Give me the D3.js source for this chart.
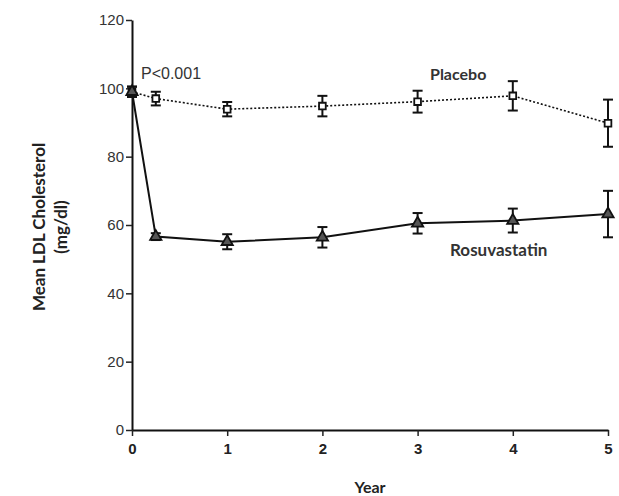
<!DOCTYPE html>
<html>
<head>
<meta charset="utf-8">
<script src="https://cdn.jsdelivr.net/npm/d3@7"></script>
<style>
  html, body { margin: 0; padding: 0; background: #fff; }
  svg { display: block; }
</style>
</head>
<body>
<svg id="chart" width="619" height="496"></svg>
<script>
// ---- data ----
const years = [0, 0.25, 1, 2, 3, 4, 5];
const placeboMean = [99, 97, 93.9, 94.8, 96.1, 97.8, 89.8];
const placeboErr  = [1.5, 2, 2.1, 3, 3.2, 4.3, 6.9];
const rosuMean    = [99, 56.6, 55.1, 56.4, 60.5, 61.3, 63.2];
const rosuErr     = [1.5, 1, 2.2, 3, 3, 3.5, 6.8];
const xTicks = [0, 1, 2, 3, 4, 5];
const yTicks = [0, 20, 40, 60, 80, 100, 120];

const svg = d3.select("#chart");
const x = d3.scaleLinear().domain([0, 5]).range([132, 608]);
const y = d3.scaleLinear().domain([0, 120]).range([430, 20]);

const tickFont = "'Liberation Sans', Arial, sans-serif";
const labelFont = "Lato, 'Open Sans', sans-serif";

// axes
const yAxis = svg.append("g").attr("transform", "translate(132,0)")
  .call(d3.axisLeft(y).tickValues(yTicks).tickFormat(d3.format("d")).tickSize(6).tickPadding(2).tickSizeOuter(0));
const xAxis = svg.append("g").attr("transform", "translate(0,430)")
  .call(d3.axisBottom(x).tickValues(xTicks).tickFormat(d3.format("d")).tickSize(6).tickPadding(7).tickSizeOuter(0));
[yAxis, xAxis].forEach(g => {
  g.select(".domain").attr("stroke", "#111").attr("stroke-width", 2);
  g.selectAll(".tick line").attr("stroke", "#222").attr("stroke-width", 1.5);
  g.selectAll(".tick text").attr("fill", "#333").style("font-family", tickFont).style("font-size", "15px");
});
xAxis.selectAll(".tick text").style("font-weight", "bold").attr("fill", "#222");

// axis titles
svg.append("text").attr("x", 370).attr("y", 493).attr("text-anchor", "middle")
  .style("font-family", labelFont).style("font-weight", "bold").style("font-size", "16px")
  .attr("fill", "#222").text("Year");
svg.append("text").attr("transform", "translate(45,227) rotate(-90)").attr("text-anchor", "middle")
  .style("font-family", labelFont).style("font-weight", "bold").style("font-size", "17px")
  .attr("fill", "#222").text("Mean LDL Cholesterol");
svg.append("text").attr("transform", "translate(67,227) rotate(-90)").attr("text-anchor", "middle")
  .style("font-family", labelFont).style("font-weight", "bold").style("font-size", "17px")
  .attr("fill", "#222").text("(mg/dl)");

function drawSeries(mean, err, dash, symbolType, fill, size) {
  const pts = years.map((t, i) => ({ t, m: mean[i], e: err[i] }));
  const line = d3.line().x(d => x(d.t)).y(d => y(d.m));
  svg.append("path").datum(pts).attr("d", line).attr("fill", "none")
    .attr("stroke", "#111").attr("stroke-width", dash ? 1.6 : 2)
    .attr("stroke-dasharray", dash ? "2,2" : null);
  const eb = svg.append("g").attr("stroke", "#111").attr("stroke-width", 2);
  pts.forEach(d => {
    eb.append("line").attr("x1", x(d.t)).attr("x2", x(d.t)).attr("y1", y(d.m - d.e)).attr("y2", y(d.m + d.e));
    eb.append("line").attr("x1", x(d.t) - 5).attr("x2", x(d.t) + 5).attr("y1", y(d.m - d.e)).attr("y2", y(d.m - d.e));
    eb.append("line").attr("x1", x(d.t) - 5).attr("x2", x(d.t) + 5).attr("y1", y(d.m + d.e)).attr("y2", y(d.m + d.e));
  });
  svg.append("g").selectAll("path").data(pts).join("path")
    .attr("transform", d => `translate(${x(d.t)},${y(d.m)})`)
    .attr("d", d3.symbol().type(symbolType).size(size))
    .attr("fill", fill).attr("stroke", "#111").attr("stroke-width", 1.8);
}

drawSeries(placeboMean, placeboErr, true, d3.symbolSquare, "#fff", 45);
drawSeries(rosuMean, rosuErr, false, d3.symbolTriangle, "#555", 55);

// annotations
svg.append("text").attr("x", 141).attr("y", 79)
  .style("font-family", tickFont).style("font-size", "16px").attr("fill", "#333").text("P<0.001");
svg.append("text").attr("x", 430).attr("y", 80)
  .style("font-family", labelFont).style("font-weight", "bold").style("font-size", "16px")
  .attr("fill", "#333").text("Placebo");
svg.append("text").attr("x", 450).attr("y", 256)
  .style("font-family", labelFont).style("font-weight", "bold").style("font-size", "17px")
  .attr("fill", "#333").text("Rosuvastatin");
</script>
</body>
</html>
